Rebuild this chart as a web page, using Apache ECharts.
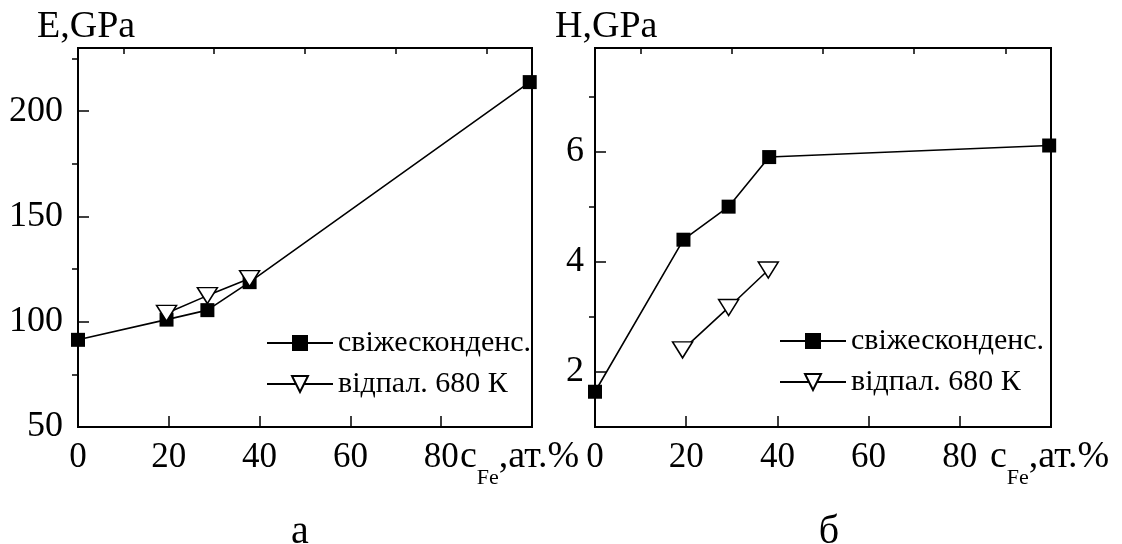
<!DOCTYPE html>
<html>
<head>
<meta charset="utf-8">
<script src="https://cdn.jsdelivr.net/npm/echarts@6/dist/echarts.min.js"></script>
<style>
  html, body { margin: 0; padding: 0; background: #fff; }
  #chart { width: 1122px; height: 544px; }
</style>
</head>
<body>
<div id="chart"></div>
<script>
// Composition axis (c_Fe, at.%) shared by both panels
const xTickLabels = [0, 20, 40, 60, 80];
const xMajorTicks = [20, 40, 60, 80];
const xMinorTicks = [10, 30, 50, 70, 90];

// Panel а: Young's modulus E, GPa
const eTickLabels = [50, 100, 150, 200];
const eMajorTicks = [100, 150, 200];
const eMinorTicks = [75, 125, 175, 225];
const cFeFreshE = [0, 19.5, 28.5, 37.8, 99.5];
const eFresh = [91.4, 101, 105.5, 118.8, 213.8];
const cFeAnnealedE = [19.5, 28.5, 37.8];
const eAnnealed = [104, 112.4, 120.5];

// Panel б: hardness H, GPa
const hTickLabels = [2, 4, 6];
const hMajorTicks = [2, 4, 6];
const hMinorTicks = [3, 5, 7];
const cFeFreshH = [0, 19.4, 29.3, 38.2, 99.6];
const hFresh = [1.64, 4.4, 5.0, 5.9, 6.11];
const cFeAnnealedH = [19.2, 29.3, 38.0];
const hAnnealed = [2.4, 3.17, 3.85];

const seriesNames = ['свіжесконденс.', 'відпал. 680 К'];

const FONT = '"Liberation Serif", "Times New Roman", serif';
const INK = '#000';

const zip = (xs, ys) => xs.map((x, i) => [x, ys[i]]);

function majorX(grid) {
  return {
    type: 'value', gridIndex: grid, min: 0, max: 100,
    axisLine: { show: true, lineStyle: { color: INK, width: 2 } },
    axisTick: { show: true, inside: true, length: 11, customValues: xMajorTicks, lineStyle: { color: INK, width: 1.5 } },
    axisLabel: { customValues: xTickLabels, color: INK, fontSize: 35, fontFamily: FONT, margin: 13 },
    splitLine: { show: false }
  };
}
function minorX(grid) {
  return {
    type: 'value', gridIndex: grid, min: 0, max: 100,
    axisLine: { show: false },
    axisTick: { show: true, inside: true, length: 6, customValues: xMinorTicks, lineStyle: { color: INK, width: 1.5 } },
    axisLabel: { show: false },
    splitLine: { show: false }
  };
}
function majorY(grid, min, max, labels, ticks, margin) {
  return {
    type: 'value', gridIndex: grid, min: min, max: max,
    axisLine: { show: true, lineStyle: { color: INK, width: 2 } },
    axisTick: { show: true, inside: true, length: 11, customValues: ticks, lineStyle: { color: INK, width: 1.5 } },
    axisLabel: { customValues: labels, color: INK, fontSize: 36, fontFamily: FONT, margin: margin },
    splitLine: { show: false }
  };
}
function minorY(grid, min, max, ticks) {
  return {
    type: 'value', gridIndex: grid, min: min, max: max,
    axisLine: { show: false },
    axisTick: { show: true, inside: true, length: 6, customValues: ticks, lineStyle: { color: INK, width: 1.5 } },
    axisLabel: { show: false },
    splitLine: { show: false }
  };
}

function freshSeries(name, xi, yi, data) {
  return {
    name: name, type: 'line', xAxisIndex: xi, yAxisIndex: yi, data: data,
    symbol: 'rect', symbolSize: 14,
    itemStyle: { color: INK },
    lineStyle: { color: INK, width: 1.6 },
    emphasis: { disabled: true }, animation: false
  };
}
function annealedSeries(name, xi, yi, data) {
  return {
    name: name, type: 'line', xAxisIndex: xi, yAxisIndex: yi, data: data,
    symbol: 'triangle', symbolSize: [20, 16], symbolRotate: 180,
    itemStyle: { color: '#fff', borderColor: INK, borderWidth: 1.5 },
    lineStyle: { color: INK, width: 1.6 },
    emphasis: { disabled: true }, animation: false, z: 3
  };
}

function axisName(left) {
  return {
    type: 'text', left: left, top: 438,
    style: {
      text: '{m|c}{s|Fe}{m|,ат.%}',
      rich: {
        m: { fontSize: 38, fontFamily: FONT, fill: INK, lineHeight: 42, verticalAlign: 'top' },
        s: { fontSize: 22, fontFamily: FONT, fill: INK, lineHeight: 22, padding: [29, 0, 0, 0], verticalAlign: 'top' }
      }
    }
  };
}
function plainText(text, x, y, size, align) {
  return {
    type: 'text', x: x, y: y,
    style: { text: text, fontSize: size, fontFamily: FONT, fill: INK, align: align || 'left', verticalAlign: 'middle' }
  };
}

function legendAt(left, top) {
  return {
    data: seriesNames, orient: 'vertical', left: left, top: top,
    itemWidth: 66, itemHeight: 20, itemGap: 11,
    textStyle: { color: INK, fontSize: 30, fontFamily: FONT },
    selectedMode: false
  };
}

const chart = echarts.init(document.getElementById('chart'), null, { renderer: 'canvas' });
chart.setOption({
  backgroundColor: '#fff',
  animation: false,
  grid: [
    { left: 78, top: 48, width: 454, height: 379, show: true, borderColor: INK, borderWidth: 2, backgroundColor: 'transparent' },
    { left: 595, top: 48, width: 456, height: 379, show: true, borderColor: INK, borderWidth: 2, backgroundColor: 'transparent' }
  ],
  xAxis: [majorX(0), minorX(0), majorX(1), minorX(1)],
  yAxis: [
    majorY(0, 50, 230, eTickLabels, eMajorTicks, 15),
    minorY(0, 50, 230, eMinorTicks),
    majorY(1, 1, 7.88, hTickLabels, hMajorTicks, 11),
    minorY(1, 1, 7.88, hMinorTicks)
  ],
  legend: [legendAt(261, 323), legendAt(774, 321)],
  series: [
    freshSeries(seriesNames[0], 0, 0, zip(cFeFreshE, eFresh)),
    annealedSeries(seriesNames[1], 0, 0, zip(cFeAnnealedE, eAnnealed)),
    freshSeries(seriesNames[0], 2, 2, zip(cFeFreshH, hFresh)),
    annealedSeries(seriesNames[1], 2, 2, zip(cFeAnnealedH, hAnnealed))
  ],
  graphic: [
    plainText('E,GPa', 37, 27, 38),
    plainText('H,GPa', 555, 27, 38),
    axisName(460),
    axisName(990),
    plainText('а', 300, 532, 40, 'center'),
    plainText('б', 829, 532, 40, 'center')
  ]
});
</script>
</body>
</html>
